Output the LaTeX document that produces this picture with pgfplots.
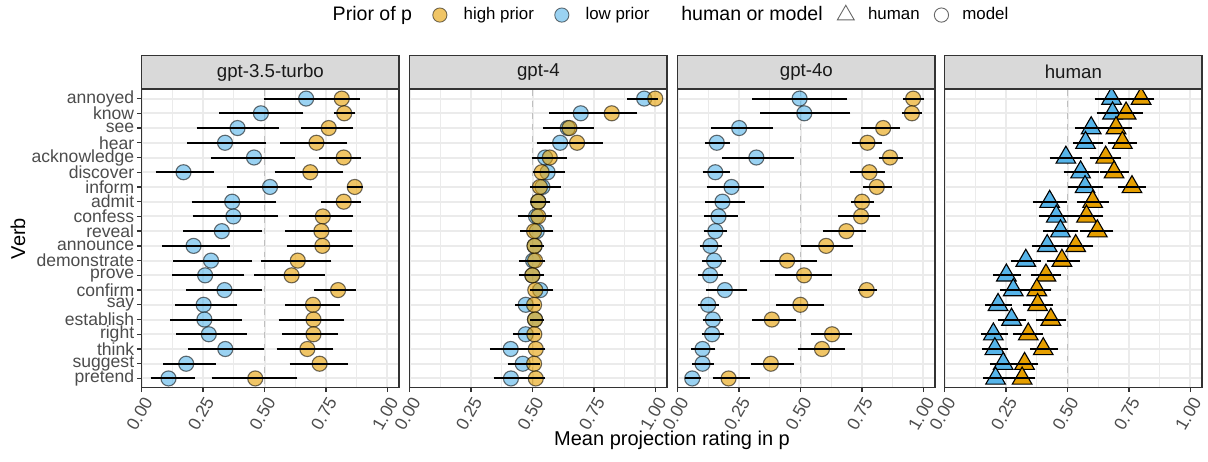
\documentclass[border=0pt]{standalone}
\usepackage{fontspec}
\setmainfont{Liberation Sans}
\usepackage{pgfplots}
\usepackage{pgfplotstable}
\pgfplotsset{compat=1.18}

\definecolor{highC}{HTML}{E69F00}
\definecolor{lowC}{HTML}{56B4E9}
\definecolor{gray92}{gray}{0.92}
\definecolor{gray85}{gray}{0.85}
\definecolor{gray75}{gray}{0.75}
\definecolor{gray30}{gray}{0.3}
\definecolor{gray20}{gray}{0.2}
\definecolor{gray10}{gray}{0.1}

% y: 1 = annoyed ... 20 = pretend
\pgfplotstableread{
y x lo hi
1 0.814 0.715 0.877
2 0.824 0.793 0.859
3 0.761 0.661 0.849
4 0.711 0.575 0.826
5 0.822 0.734 0.881
6 0.686 0.552 0.809
7 0.867 0.847 0.889
8 0.822 0.741 0.881
9 0.737 0.609 0.849
10 0.731 0.593 0.844
11 0.735 0.601 0.847
12 0.635 0.495 0.761
13 0.610 0.469 0.735
14 0.799 0.711 0.863
15 0.697 0.595 0.794
16 0.699 0.568 0.814
17 0.699 0.583 0.788
18 0.674 0.560 0.769
19 0.724 0.613 0.829
20 0.462 0.295 0.623
}\gptthreehigh
\pgfplotstableread{
y x lo hi
1 0.669 0.507 0.820
2 0.485 0.326 0.647
3 0.390 0.234 0.548
4 0.339 0.197 0.496
5 0.457 0.292 0.614
6 0.170 0.067 0.283
7 0.522 0.356 0.684
8 0.368 0.214 0.537
9 0.373 0.218 0.544
10 0.326 0.178 0.480
11 0.211 0.093 0.349
12 0.282 0.140 0.438
13 0.258 0.135 0.407
14 0.337 0.193 0.479
15 0.252 0.147 0.378
16 0.255 0.127 0.397
17 0.273 0.152 0.416
18 0.340 0.200 0.487
19 0.181 0.099 0.291
20 0.109 0.047 0.204
}\gptthreelow
\pgfplotstableread{
y x lo hi
1 0.999 0.975 1.000
2 0.822 0.720 0.915
3 0.650 0.560 0.738
4 0.681 0.600 0.775
5 0.570 0.520 0.629
6 0.537 0.511 0.580
7 0.530 0.500 0.590
8 0.523 0.500 0.561
9 0.523 0.470 0.568
10 0.506 0.460 0.560
11 0.508 0.500 0.534
12 0.510 0.470 0.541
13 0.499 0.465 0.534
14 0.511 0.502 0.540
15 0.506 0.500 0.520
16 0.510 0.500 0.534
17 0.507 0.500 0.520
18 0.513 0.500 0.541
19 0.506 0.500 0.520
20 0.513 0.487 0.541
}\gptfourhigh
\pgfplotstableread{
y x lo hi
1 0.954 0.897 0.990
2 0.696 0.578 0.800
3 0.643 0.553 0.730
4 0.612 0.527 0.700
5 0.551 0.507 0.600
6 0.561 0.515 0.621
7 0.540 0.505 0.604
8 0.523 0.505 0.555
9 0.514 0.450 0.560
10 0.517 0.470 0.574
11 0.508 0.500 0.530
12 0.502 0.455 0.535
13 0.499 0.455 0.530
14 0.531 0.505 0.574
15 0.472 0.440 0.500
16 0.510 0.500 0.530
17 0.472 0.431 0.504
18 0.411 0.337 0.477
19 0.460 0.409 0.504
20 0.412 0.352 0.476
}\gptfourlow
\pgfplotstableread{
y x lo hi
1 0.958 0.927 0.992
2 0.953 0.923 0.984
3 0.836 0.758 0.894
4 0.772 0.722 0.821
5 0.864 0.828 0.905
6 0.780 0.711 0.833
7 0.810 0.764 0.863
8 0.750 0.715 0.786
9 0.746 0.665 0.814
10 0.686 0.601 0.754
11 0.604 0.511 0.703
12 0.445 0.347 0.555
13 0.514 0.405 0.615
14 0.769 0.745 0.798
15 0.499 0.411 0.586
16 0.383 0.314 0.469
17 0.628 0.553 0.699
18 0.587 0.499 0.670
19 0.379 0.309 0.461
20 0.207 0.153 0.283
}\gptfourohigh
\pgfplotstableread{
y x lo hi
1 0.496 0.314 0.680
2 0.515 0.347 0.692
3 0.250 0.148 0.375
4 0.159 0.121 0.200
5 0.320 0.193 0.462
6 0.153 0.112 0.200
7 0.219 0.129 0.340
8 0.182 0.123 0.262
9 0.166 0.118 0.233
10 0.153 0.116 0.190
11 0.133 0.100 0.170
12 0.148 0.110 0.186
13 0.132 0.095 0.173
14 0.192 0.127 0.273
15 0.124 0.093 0.158
16 0.143 0.112 0.173
17 0.140 0.108 0.178
18 0.101 0.066 0.142
19 0.101 0.071 0.135
20 0.059 0.041 0.083
}\gptfourolow
\pgfplotstableread{
y x lo hi
1 0.799 0.754 0.842
2 0.738 0.685 0.795
3 0.697 0.643 0.750
4 0.723 0.674 0.770
5 0.655 0.601 0.707
6 0.689 0.641 0.738
7 0.762 0.715 0.807
8 0.602 0.549 0.656
9 0.577 0.527 0.633
10 0.621 0.563 0.675
11 0.533 0.476 0.591
12 0.477 0.428 0.539
13 0.412 0.363 0.461
14 0.375 0.319 0.423
15 0.378 0.330 0.428
16 0.432 0.383 0.481
17 0.340 0.288 0.390
18 0.401 0.357 0.450
19 0.325 0.277 0.370
20 0.315 0.269 0.357
}\humanhigh
\pgfplotstableread{
y x lo hi
1 0.679 0.621 0.738
2 0.683 0.629 0.740
3 0.596 0.543 0.655
4 0.573 0.533 0.632
5 0.493 0.438 0.548
6 0.553 0.495 0.615
7 0.571 0.514 0.635
8 0.427 0.370 0.488
9 0.454 0.395 0.511
10 0.471 0.412 0.533
11 0.417 0.368 0.469
12 0.330 0.281 0.379
13 0.251 0.208 0.298
14 0.279 0.235 0.322
15 0.217 0.175 0.261
16 0.272 0.227 0.319
17 0.198 0.158 0.245
18 0.204 0.162 0.247
19 0.238 0.194 0.281
20 0.207 0.166 0.249
}\humanlow

\pgfplotsset{
  facet/.style={
    scale only axis, width=115.8pt, height=133.9pt,
    xmin=0, xmax=1.047, ymin=0.4, ymax=20.6, y dir=reverse,
    xtick={0,0.25,0.5,0.75,1}, xticklabels={0.00,0.25,0.50,0.75,1.00},
    minor xtick={0.125,0.375,0.625,0.875},
    ytick={1,...,20},
    grid=both,
    major grid style={color=gray92, line width=0.9pt},
    minor grid style={color=gray92, line width=0.45pt},
    axis line style={gray20, line width=0.6pt},
    major tick style={gray20, line width=0.6pt},
    tick align=outside, major tick length=2.2pt, minor tick length=0pt,
    xtick pos=bottom, ytick pos=left,
    ticklabel style={font=\fontsize{7.9}{9}\selectfont, text=gray30},
    yticklabel style={inner sep=1pt},
    xticklabel style={rotate=60, anchor=north east, inner sep=1pt},
    /pgf/number format/assume math mode=true,
    clip marker paths=true,
    every axis title shift=0pt,
    title style={at={(0.5,1)}, anchor=south, yshift=0pt, fill=gray85, draw=gray20,
      line width=0.6pt, minimum width=115.8pt, minimum height=15.2pt, inner sep=0pt,
      font=\fontsize{8.4}{9}\selectfont, text=gray10},
  },
  refline/.style={gray75, dashed, line width=0.6pt, dash pattern=on 2.6pt off 2.6pt, forget plot},
  pt/.style={only marks, forget plot, mark=*, mark size=3.4pt,
    mark options={fill=#1, fill opacity=0.6, draw=black, draw opacity=0.55, line width=0.5pt}},
  tri/.style={only marks, forget plot, mark=triangle*, mark size=5.1pt,
    mark options={fill=#1, draw=black, line width=0.5pt}},
  eb/.style={draw=none, mark=none, forget plot,
    error bars/.cd, x dir=both, x explicit,
    error bar style={draw=black, line width=0.9pt},
    error mark options={draw=black, mark size=1.2pt, line width=0.9pt}},
  legA/.style={legend columns=-1,
    legend style={at={(#1,1.251)}, anchor=west, draw=none, fill=none,
      font=\fontsize{7.6}{8}\selectfont,
      /tikz/every odd column/.append style={column sep=5.5pt},
      /tikz/every even column/.append style={column sep=7.3pt}}},
  legB/.style={legend columns=-1,
    legend style={at={(#1,1.251)}, anchor=west, draw=none, fill=none,
      font=\fontsize{7.6}{8}\selectfont,
      /tikz/every odd column/.append style={column sep=4.2pt},
      /tikz/every even column/.append style={column sep=4.6pt}}},
}

\begin{document}
\begin{tikzpicture}
\useasboundingbox (-63.77pt,-33.17pt) rectangle (479.84pt,174.29pt);

% ---------- panel 1 ----------
\begin{axis}[facet, at={(0pt,0pt)}, anchor=south west, title={gpt-3.5-turbo},
  yticklabels={annoyed,know,see,hear,acknowledge,discover,inform,admit,confess,reveal,announce,demonstrate,prove,confirm,say,establish,right,think,suggest,pretend},
  xlabel={Mean projection rating in p},
  every axis x label/.style={at={(2.061,-0.177)}, anchor=center, font=\fontsize{9}{10}\selectfont},
  ylabel={Verb},
  every axis y label/.style={at={(-0.4808,0.5)}, rotate=90, anchor=center, font=\fontsize{9}{10}\selectfont},
  legA=0.650,
]
\addlegendimage{empty legend}\addlegendentry{\fontsize{8.8}{10}\selectfont Prior of p}
\addlegendimage{only marks, mark=*, mark size=3.2pt, mark options={fill=highC, fill opacity=0.6, draw=black, draw opacity=0.55, line width=0.4pt}}\addlegendentry{high prior}
\addlegendimage{only marks, mark=*, mark size=3.2pt, mark options={fill=lowC, fill opacity=0.6, draw=black, draw opacity=0.55, line width=0.4pt}}\addlegendentry{low prior}
\addplot[refline] coordinates {(0.5,0.4) (0.5,20.6)};
\addplot[pt=lowC] table[x=x,y=y] {\gptthreelow};
\addplot[pt=highC] table[x=x,y=y] {\gptthreehigh};
\addplot[eb] table[x=x, y=y, x error plus expr=\thisrow{hi}-\thisrow{x}, x error minus expr=\thisrow{x}-\thisrow{lo}] {\gptthreelow};
\addplot[eb] table[x=x, y=y, x error plus expr=\thisrow{hi}-\thisrow{x}, x error minus expr=\thisrow{x}-\thisrow{lo}] {\gptthreehigh};
\end{axis}

% ---------- panel 2 ----------
\begin{axis}[facet, at={(120.6pt,0pt)}, anchor=south west, title={gpt-4},
  yticklabels={}, ytick style={draw=none}]
\addplot[refline] coordinates {(0.5,0.4) (0.5,20.6)};
\addplot[pt=lowC] table[x=x,y=y] {\gptfourlow};
\addplot[pt=highC] table[x=x,y=y] {\gptfourhigh};
\addplot[eb] table[x=x, y=y, x error plus expr=\thisrow{hi}-\thisrow{x}, x error minus expr=\thisrow{x}-\thisrow{lo}] {\gptfourlow};
\addplot[eb] table[x=x, y=y, x error plus expr=\thisrow{hi}-\thisrow{x}, x error minus expr=\thisrow{x}-\thisrow{lo}] {\gptfourhigh};
\end{axis}

% ---------- panel 3 ----------
\begin{axis}[facet, at={(241.2pt,0pt)}, anchor=south west, title={gpt-4o},
  yticklabels={}, ytick style={draw=none}, legB=-0.067]
\addlegendimage{empty legend}\addlegendentry{\fontsize{8.8}{10}\selectfont human or model}
\addlegendimage{only marks, mark=triangle, mark size=4.4pt, mark options={draw=black!60, line width=0.4pt}}\addlegendentry{human}
\addlegendimage{only marks, mark=o, mark size=3.2pt, mark options={draw=black!60, line width=0.4pt}}\addlegendentry{model}
\addplot[refline] coordinates {(0.5,0.4) (0.5,20.6)};
\addplot[pt=lowC] table[x=x,y=y] {\gptfourolow};
\addplot[pt=highC] table[x=x,y=y] {\gptfourohigh};
\addplot[eb] table[x=x, y=y, x error plus expr=\thisrow{hi}-\thisrow{x}, x error minus expr=\thisrow{x}-\thisrow{lo}] {\gptfourolow};
\addplot[eb] table[x=x, y=y, x error plus expr=\thisrow{hi}-\thisrow{x}, x error minus expr=\thisrow{x}-\thisrow{lo}] {\gptfourohigh};
\end{axis}

% ---------- panel 4 ----------
\begin{axis}[facet, at={(361.35pt,0pt)}, anchor=south west, title={human},
  yticklabels={}, ytick style={draw=none}]
\addplot[refline] coordinates {(0.5,0.4) (0.5,20.6)};
\addplot[tri=lowC] table[x=x,y=y] {\humanlow};
\addplot[tri=highC] table[x=x,y=y] {\humanhigh};
\addplot[eb] table[x=x, y=y, x error plus expr=\thisrow{hi}-\thisrow{x}, x error minus expr=\thisrow{x}-\thisrow{lo}] {\humanlow};
\addplot[eb] table[x=x, y=y, x error plus expr=\thisrow{hi}-\thisrow{x}, x error minus expr=\thisrow{x}-\thisrow{lo}] {\humanhigh};
\end{axis}
\end{tikzpicture}
\end{document}
